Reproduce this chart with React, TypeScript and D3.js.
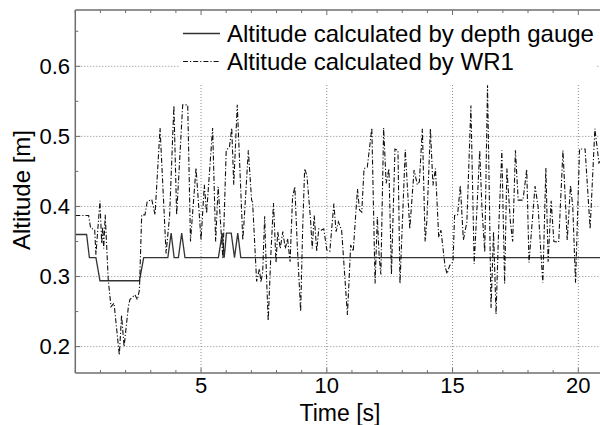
import React from "react";
import * as d3 from "d3";

const wr1Time = [
  0.0, 0.53, 0.61, 0.77, 0.82, 0.98, 1.05, 1.09, 1.13, 1.19, 1.31, 1.42, 1.54, 1.75, 1.84, 1.94,
  2.11, 2.17, 2.37, 2.47, 2.55, 2.64, 2.77, 2.86, 3.04, 3.17, 3.37, 3.61, 3.75, 3.92, 4.03, 4.27,
  4.47, 4.58, 4.8, 5.0, 5.13, 5.22, 5.46, 5.58, 5.68, 5.87, 6.0, 6.13, 6.22, 6.3, 6.44, 6.66,
  6.71, 6.88, 7.01, 7.05, 7.21, 7.32, 7.38, 7.45, 7.53, 7.6, 7.67, 7.78, 7.88, 7.98, 8.05, 8.15,
  8.25, 8.35, 8.44, 8.54, 8.64, 8.73, 8.82, 8.96, 9.04, 9.12, 9.21, 9.35, 9.42, 9.5, 9.6, 9.68,
  9.77, 9.88, 10.0, 10.12, 10.28, 10.37, 10.46, 10.59, 10.82, 10.95, 11.05, 11.22, 11.3, 11.39,
  11.48, 11.61, 11.79, 11.92, 12.01, 12.08, 12.15, 12.26, 12.36, 12.47, 12.57, 12.71, 12.83,
  12.91, 13.12, 13.3, 13.47, 13.6, 13.68, 13.8, 13.91, 13.98, 14.12, 14.22, 14.32, 14.45, 14.54,
  14.7, 14.78, 14.89, 15.02, 15.08, 15.2, 15.31, 15.43, 15.57, 15.73, 15.86, 15.97, 16.08, 16.17,
  16.28, 16.39, 16.46, 16.53, 16.63, 16.73, 16.83, 16.96, 17.07, 17.16, 17.3, 17.39, 17.5, 17.61,
  17.8, 17.95, 18.04, 18.28, 18.4, 18.52, 18.59, 18.71, 18.8, 18.92, 19.03, 19.22, 19.39, 19.56,
  19.69, 19.78, 19.89, 20.05, 20.27, 20.47, 20.66, 20.82, 21.0,
];
const wr1Alt = [
  0.387, 0.387, 0.369, 0.367, 0.331, 0.408, 0.347, 0.371, 0.34, 0.388, 0.295, 0.257, 0.262, 0.188, 0.245, 0.2,
  0.257, 0.267, 0.274, 0.267, 0.281, 0.388, 0.388, 0.407, 0.41, 0.388, 0.512, 0.333, 0.387, 0.544, 0.388, 0.545,
  0.545, 0.35, 0.455, 0.352, 0.431, 0.39, 0.512, 0.35, 0.428, 0.325, 0.48, 0.485, 0.512, 0.431, 0.545, 0.352,
  0.378, 0.48, 0.409, 0.406, 0.293, 0.311, 0.292, 0.306, 0.386, 0.302, 0.237, 0.335, 0.405, 0.32, 0.364, 0.34,
  0.364, 0.34, 0.354, 0.321, 0.414, 0.428, 0.349, 0.25, 0.368, 0.454, 0.444, 0.383, 0.34, 0.387, 0.336, 0.368,
  0.366, 0.368, 0.338, 0.336, 0.404, 0.364, 0.378, 0.366, 0.245, 0.345, 0.336, 0.425, 0.395, 0.392,
  0.454, 0.456, 0.512, 0.29, 0.385, 0.33, 0.303, 0.512, 0.433, 0.454, 0.303, 0.482, 0.48,
  0.29, 0.481, 0.368, 0.452, 0.431, 0.435, 0.511, 0.35, 0.38, 0.511, 0.43, 0.454, 0.356, 0.366,
  0.315, 0.304, 0.316, 0.321, 0.387, 0.388, 0.43, 0.352, 0.378, 0.544, 0.318, 0.397, 0.48, 0.397,
  0.335, 0.573, 0.42, 0.255, 0.364, 0.246, 0.364, 0.48, 0.29, 0.454, 0.378, 0.35, 0.48, 0.409,
  0.409, 0.453, 0.32, 0.429, 0.4, 0.33, 0.291, 0.455, 0.321, 0.408, 0.35, 0.349, 0.48, 0.352,
  0.43, 0.4, 0.291, 0.482, 0.482, 0.368, 0.511, 0.462, 0.47,
];

const gaugeTime = [
  0, 0.45, 0.56, 0.82, 0.98, 2.55, 2.72, 3.68, 3.81, 3.93, 4.1, 4.23, 4.36, 5.69, 5.84, 5.92,
  6.01, 6.2, 6.33, 6.46, 6.58, 21.0,
];
const gaugeAlt = [
  0.36, 0.36, 0.327, 0.327, 0.294, 0.294, 0.327, 0.327, 0.362, 0.327, 0.327, 0.362, 0.327, 0.327,
  0.362, 0.327, 0.362, 0.362, 0.327, 0.362, 0.327, 0.327,
];

const xMajorTicks = [5, 10, 15, 20];
const xMinorTicks = d3.range(0, 22, 1);
const yMajorTicks = [0.2, 0.3, 0.4, 0.5, 0.6];
const yMinorTicks = [0.2, 0.25, 0.3, 0.35, 0.4, 0.45, 0.5, 0.55, 0.6, 0.65];
const legendLabels = ["Altitude calculated by depth gauge", "Altitude calculated by WR1"];
const xTitle = "Time [s]";
const yTitle = "Altitude [m]";

const W = 600;
const H = 425;
const left = 75.3;
const top = 10;
const bottom = 373;
const rightEdge = 606;
const FONT = "'Liberation Sans', Arial, Helvetica, sans-serif";

export default function App() {
  const x = d3.scaleLinear().domain([0, 20]).range([left, 578.3]);
  const y = d3.scaleLinear().domain([0.2, 0.6]).range([346.6, 66.3]);

  const wr1 = wr1Time.map((t, i) => [t, wr1Alt[i]] as [number, number]);
  const gauge = gaugeTime.map((t, i) => [t, gaugeAlt[i]] as [number, number]);
  const line = d3
    .line<[number, number]>()
    .x((d) => x(d[0]))
    .y((d) => y(d[1]));

  const gridColor = "#8a8a8a";
  const frameColor = "#6e6e6e";
  const dashDot = "5,2,1.2,2";

  return (
    <svg
      width={W}
      height={H}
      style={{ position: "absolute", left: 0, top: 0, background: "#fff" }}
      fontFamily={FONT}
    >
      <defs>
        <clipPath id="plotClip">
          <rect x={left} y={top} width={rightEdge - left} height={bottom - top} />
        </clipPath>
      </defs>
      <rect x={0} y={0} width={W} height={H} fill="#fff" />
      {/* grid */}
      <g stroke={gridColor} strokeWidth={1} strokeDasharray="1,2">
        {yMajorTicks.map((v) => (
          <line key={"gy" + v} x1={left} x2={rightEdge} y1={y(v)} y2={y(v)} />
        ))}
        {xMajorTicks.map((v) => (
          <line key={"gx" + v} x1={x(v)} x2={x(v)} y1={top} y2={bottom} />
        ))}
      </g>
      {/* data */}
      <g clipPath="url(#plotClip)" fill="none">
        <path d={line(gauge) || ""} stroke="#333" strokeWidth={1.3} />
        <path d={line(wr1) || ""} stroke="#111" strokeWidth={1.1} strokeDasharray={dashDot} />
      </g>
      {/* legend */}
      <rect x={179} y={top} width={418} height={74} fill="#fff" />
      {legendLabels.map((lab, i) => {
        const ly = 33.5 + i * 28;
        return (
          <g key={lab}>
            <line
              x1={183}
              x2={220}
              y1={ly}
              y2={ly}
              stroke={i === 0 ? "#333" : "#111"}
              strokeWidth={i === 0 ? 1.3 : 1.1}
              strokeDasharray={i === 0 ? undefined : dashDot}
            />
            <text x={227} y={ly} dy="0.35em" fontSize={24} fill="#000">
              {lab}
            </text>
          </g>
        );
      })}
      {/* frame */}
      <g stroke={frameColor} strokeWidth={1.5} fill="none">
        <line x1={left} x2={rightEdge} y1={top} y2={top} />
        <line x1={left} x2={rightEdge} y1={bottom} y2={bottom} />
        <line x1={left} x2={left} y1={top} y2={bottom} />
      </g>
      {/* ticks */}
      <g stroke={frameColor} strokeWidth={1}>
        {xMinorTicks.map((v) => {
          const len = xMajorTicks.includes(v) ? 5 : 3;
          return (
            <g key={"tx" + v}>
              <line x1={x(v)} x2={x(v)} y1={bottom} y2={bottom - len} />
              <line x1={x(v)} x2={x(v)} y1={top} y2={top + len} />
            </g>
          );
        })}
        {yMinorTicks.map((v) => {
          const len = yMajorTicks.includes(v) ? 5 : 3;
          return <line key={"ty" + v} x1={left} x2={left + len} y1={y(v)} y2={y(v)} />;
        })}
      </g>
      {/* tick labels */}
      {xMajorTicks.map((v) => (
        <text key={"lx" + v} x={x(v)} y={393} textAnchor="middle" fontSize={22} fill="#000">
          {d3.format("d")(v)}
        </text>
      ))}
      {yMajorTicks.map((v) => (
        <text key={"ly" + v} x={70} y={y(v)} dy="0.35em" textAnchor="end" fontSize={22} fill="#000">
          {d3.format(".1f")(v)}
        </text>
      ))}
      <text x={340} y={421} textAnchor="middle" fontSize={23} fill="#000">
        {xTitle}
      </text>
      <text
        transform={`translate(30,190) rotate(-90)`}
        textAnchor="middle"
        fontSize={24}
        fill="#000"
      >
        {yTitle}
      </text>
    </svg>
  );
}
